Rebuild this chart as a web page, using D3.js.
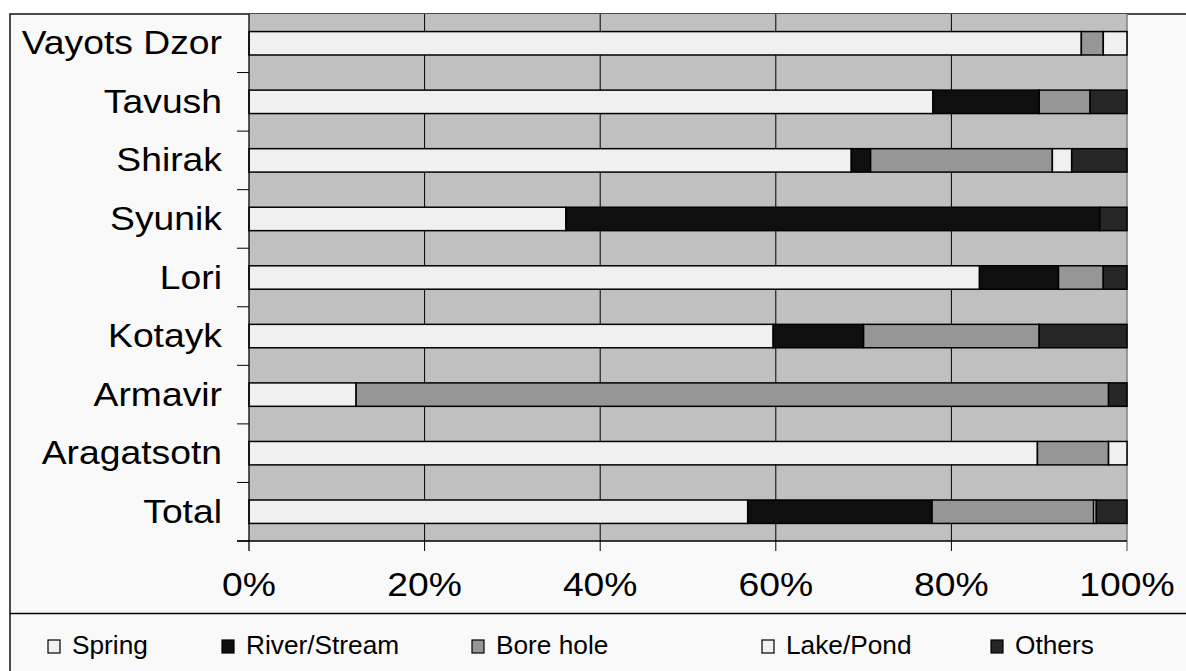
<!DOCTYPE html>
<html>
<head>
<meta charset="utf-8">
<script src="https://cdn.jsdelivr.net/npm/d3@7"></script>
<style>
  body { margin: 0; background: #fff; }
  text { font-family: "Liberation Sans", Arial, sans-serif; fill: #000; }
</style>
</head>
<body>
<svg id="chart" width="1186" height="671"></svg>
<script>
// regions, top to bottom
var regions = ["Vayots Dzor", "Tavush", "Shirak", "Syunik", "Lori", "Kotayk", "Armavir", "Aragatsotn", "Total"];
var sources = ["Spring", "River/Stream", "Bore hole", "Lake/Pond", "Others"];
var colors = ["#f0f0f0", "#0f0f0f", "#969696", "#f0f0f0", "#262626"];

// share of households, percent
var spring = [94.8, 77.9, 68.6, 36.1, 83.2, 59.7, 12.2, 89.8, 56.8];
var river  = [0,    12.1,  2.2, 60.8,  9.0, 10.3,  0,    0,   21.0];
var bore   = [2.5,   5.8, 20.7,  0,    5.1, 20.0, 85.7,  8.1, 18.4];
var lake   = [2.7,   0,    2.2,  0,    0,    0,    0,    2.1,  0.3];
var others = [0,     4.2,  6.3,  3.1,  2.7, 10.0,  2.1,  0,    3.5];

var xTicks = [0, 20, 40, 60, 80, 100];

var rows = regions.map(function (r, i) {
    return {region: r, "Spring": spring[i], "River/Stream": river[i], "Bore hole": bore[i],
        "Lake/Pond": lake[i], "Others": others[i]};
});

var svg = d3.select("#chart");

var margin = {top: 14, left: 249, right: 59, bottom: 130};
var width = 1186 - margin.left - margin.right,
    height = 671 - margin.top - margin.bottom;

// outer frame
svg.append("rect")
    .attr("x", 10).attr("y", 14)
    .attr("width", 1200).attr("height", 700)
    .attr("fill", "#f9f9f9")
    .attr("stroke", "#111")
    .attr("stroke-width", 1.5);

svg.append("line")
    .attr("x1", 10).attr("x2", 1186)
    .attr("y1", 613.5).attr("y2", 613.5)
    .attr("stroke", "#000").attr("stroke-width", 1.3);

var g = svg.append("g")
    .attr("transform", "translate(" + margin.left + "," + margin.top + ")");

var x = d3.scaleLinear().domain([0, 100]).range([0, width]);
var y = d3.scaleBand().domain(regions).range([0, height])
    .paddingInner(0.6).paddingOuter(0.3);

// plot background
g.append("rect")
    .attr("width", width).attr("height", height)
    .attr("fill", "#c0c0c0");

// gridlines
g.selectAll(".grid")
    .data(xTicks.slice(1, -1))
    .enter().append("line")
    .attr("class", "grid")
    .attr("x1", function (d) { return x(d); })
    .attr("x2", function (d) { return x(d); })
    .attr("y1", 0).attr("y2", height)
    .attr("stroke", "#000").attr("stroke-width", 1);

g.append("line")
    .attr("x1", width).attr("x2", width)
    .attr("y1", 0).attr("y2", height + 10)
    .attr("stroke", "#808080").attr("stroke-width", 1.5);

var stack = d3.stack().keys(sources);
var series = stack(rows);

var layers = g.selectAll(".layer")
    .data(series)
    .enter().append("g")
    .attr("class", "layer")
    .attr("fill", function (d, i) { return colors[i]; });

layers.selectAll("rect")
    .data(function (d) { return d.filter(function (s) { return s[1] - s[0] > 0; }); })
    .enter().append("rect")
    .attr("x", function (d) { return x(d[0]); })
    .attr("y", function (d) { return y(d.data.region); })
    .attr("width", function (d) { return x(d[1]) - x(d[0]); })
    .attr("height", y.bandwidth())
    .attr("stroke", "#000")
    .attr("stroke-width", 1.5);

// left axis: tick marks at category boundaries
var step = y.step();
var bounds = d3.range(regions.length + 1).map(function (i) { return y.range()[0] + i * step - (y.paddingOuter() * step - y.paddingOuter() * step); });
g.selectAll(".ytick")
    .data(bounds.slice(1))
    .enter().append("line")
    .attr("x1", -12).attr("x2", 0)
    .attr("y1", function (d) { return d; })
    .attr("y2", function (d) { return d; })
    .attr("stroke", "#000").attr("stroke-width", 1);

g.append("line")
    .attr("x1", 0).attr("x2", 0)
    .attr("y1", 0).attr("y2", height + 10)
    .attr("stroke", "#000").attr("stroke-width", 1.3);

g.append("line")
    .attr("x1", -12).attr("x2", width)
    .attr("y1", height).attr("y2", height)
    .attr("stroke", "#000").attr("stroke-width", 1.3);

// bottom ticks
g.selectAll(".xtick")
    .data(xTicks.slice(1, -1))
    .enter().append("line")
    .attr("x1", function (d) { return x(d); })
    .attr("x2", function (d) { return x(d); })
    .attr("y1", height).attr("y2", height + 10)
    .attr("stroke", "#000").attr("stroke-width", 1);

// labels
g.selectAll(".ylabel")
    .data(regions)
    .enter().append("text")
    .attr("transform", function (d) {
        return "translate(-27," + (y(d) + y.bandwidth() / 2 + 11) + ") scale(1.13,1)";
    })
    .attr("text-anchor", "end")
    .attr("font-size", 33)
    .text(function (d) { return d; });

g.selectAll(".xlabel")
    .data(xTicks)
    .enter().append("text")
    .attr("transform", function (d) {
        return "translate(" + x(d) + "," + (height + 55) + ") scale(1.13,1)";
    })
    .attr("text-anchor", "middle")
    .attr("font-size", 33)
    .text(function (d) { return d + "%"; });

// legend
var legendX = [48, 222, 472, 762, 991];
var legend = svg.selectAll(".legend")
    .data(sources)
    .enter().append("g")
    .attr("class", "legend")
    .attr("transform", function (d, i) { return "translate(" + legendX[i] + ",640)"; });

legend.append("rect")
    .attr("width", 12).attr("height", 13)
    .attr("fill", function (d, i) { return colors[i]; })
    .attr("stroke", "#000").attr("stroke-width", 1.2);

legend.append("text")
    .attr("transform", "translate(24,14) scale(1.05,1)")
    .attr("font-size", 25)
    .text(function (d) { return d; });
</script>
</body>
</html>
